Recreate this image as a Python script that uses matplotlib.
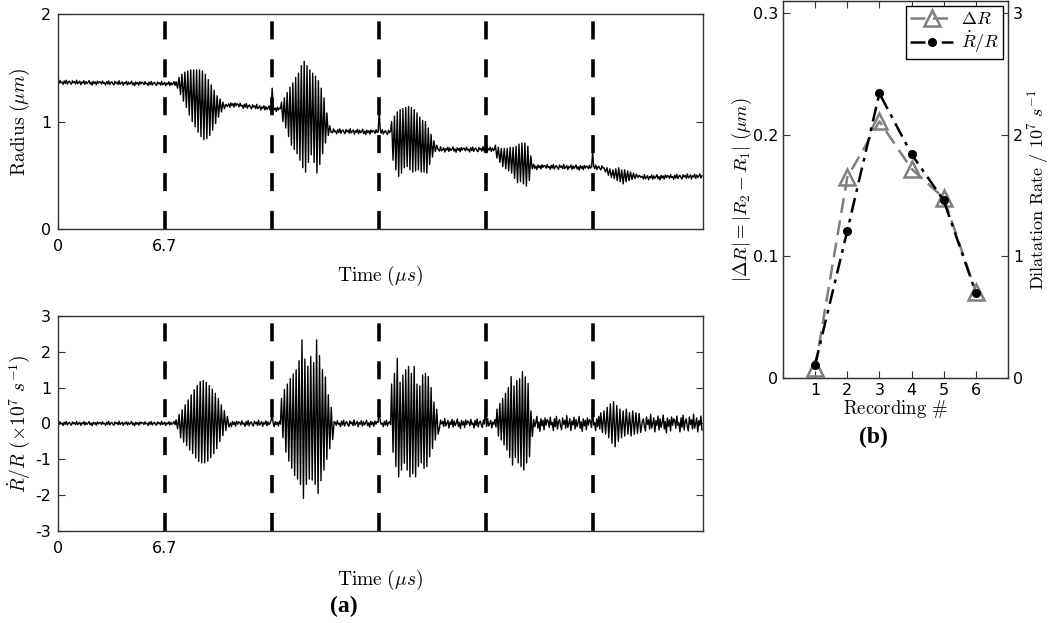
import numpy as np
import matplotlib.pyplot as plt

plt.rcParams['mathtext.fontset'] = 'cm'
plt.rcParams['font.family'] = 'DejaVu Sans'

# ---- panel (a): time traces ----
t_end = 40.4
marks = [6.7, 13.4, 20.1, 26.8, 33.5]

# quiet stretches: (start, end, level at start, level at end, noise)
r_quiet = [(0.0, 7.4, 1.365, 1.35, 0.022),
           (10.7, 14.0, 1.16, 1.11, 0.026),
           (17.2, 20.9, 0.91, 0.90, 0.026),
           (23.9, 27.4, 0.74, 0.74, 0.026),
           (29.8, 34.2, 0.58, 0.57, 0.026),
           (36.6, 40.4, 0.48, 0.49, 0.026)]
# bursts: (start, end) and per-cycle tops / bottoms
r_burst_t = [(7.4, 10.7), (14.0, 17.2), (20.9, 23.9), (27.4, 29.8), (34.2, 36.6)]
r_tops = [
    [1.37, 1.41, 1.44, 1.46, 1.47, 1.48, 1.48, 1.48, 1.48, 1.47, 1.44, 1.39, 1.34, 1.29, 1.24, 1.21, 1.18, 1.16],
    [1.18, 1.22, 1.27, 1.32, 1.36, 1.41, 1.45, 1.52, 1.56, 1.52, 1.48, 1.45, 1.42, 1.38, 1.31, 1.22, 1.08, 0.96],
    [1.00, 1.05, 1.09, 1.11, 1.12, 1.13, 1.14, 1.13, 1.11, 1.08, 1.04, 1.01, 1.00, 0.94, 0.88, 0.82, 0.78],
    [0.78, 0.76, 0.75, 0.75, 0.75, 0.76, 0.76, 0.77, 0.79, 0.80, 0.80, 0.77, 0.68],
    [0.57, 0.57, 0.56, 0.55, 0.56, 0.57, 0.55, 0.55, 0.54, 0.53, 0.52, 0.51, 0.50]]
r_bots = [
    [1.31, 1.25, 1.19, 1.13, 1.06, 1.00, 0.95, 0.90, 0.86, 0.83, 0.84, 0.87, 0.92, 0.98, 1.04, 1.09, 1.12, 1.14],
    [1.00, 0.94, 0.86, 0.78, 0.74, 0.70, 0.64, 0.57, 0.53, 0.62, 0.69, 0.62, 0.52, 0.60, 0.70, 0.80, 0.87, 0.90],
    [0.64, 0.55, 0.49, 0.52, 0.57, 0.58, 0.55, 0.53, 0.54, 0.55, 0.53, 0.53, 0.52, 0.60, 0.67, 0.72, 0.74],
    [0.66, 0.62, 0.58, 0.56, 0.54, 0.52, 0.47, 0.43, 0.44, 0.42, 0.40, 0.45, 0.56],
    [0.53, 0.50, 0.48, 0.47, 0.45, 0.44, 0.42, 0.44, 0.45, 0.46, 0.47, 0.48, 0.48]]
r_spikes = [(13.4, 1.31), (20.1, 1.10), (26.8, 0.86), (33.5, 0.72)]

d_quiet = [(0.0, 7.4, 0.0, 0.0, 0.06),
           (10.8, 14.0, 0.0, 0.0, 0.09),
           (17.3, 20.9, 0.0, 0.0, 0.10),
           (23.9, 27.5, 0.0, 0.0, 0.14),
           (29.8, 34.0, 0.0, 0.0, 0.22),
           (36.6, 40.4, 0.0, 0.0, 0.26)]
d_burst_t = [(7.4, 10.8), (14.0, 17.3), (20.9, 23.9), (27.5, 29.8), (34.0, 36.6)]
d_tops = [
    [0.10, 0.25, 0.38, 0.52, 0.66, 0.80, 0.94, 1.06, 1.17, 1.20, 1.15, 1.06, 0.96, 0.84, 0.70, 0.52, 0.36, 0.20],
    [0.70, 0.95, 1.10, 1.25, 1.38, 1.50, 1.75, 2.33, 1.80, 1.60, 1.87, 1.70, 2.33, 1.90, 1.50, 1.30, 0.80, 0.45],
    [1.10, 1.40, 1.82, 1.15, 1.35, 1.50, 1.59, 1.40, 1.59, 1.10, 1.05, 1.35, 1.40, 1.31, 1.00, 0.60, 0.40],
    [0.40, 0.56, 0.70, 0.84, 1.00, 1.31, 1.05, 1.20, 1.25, 1.45, 1.30, 1.12, 0.35],
    [0.30, 0.35, 0.45, 0.55, 0.61, 0.50, 0.40, 0.35, 0.40, 0.30, 0.35, 0.30, 0.28]]
d_bots = [
    [-0.15, -0.40, -0.52, -0.62, -0.74, -0.84, -0.96, -1.06, -1.10, -1.10, -1.05, -0.95, -0.84, -0.70, -0.50, -0.34, -0.20, -0.10],
    [-0.40, -0.80, -1.05, -1.25, -1.45, -1.55, -1.70, -2.09, -1.70, -1.55, -1.58, -1.70, -1.95, -1.60, -1.30, -1.00, -0.70, -0.45],
    [-0.80, -1.20, -1.49, -1.30, -1.11, -1.30, -1.49, -1.40, -1.49, -1.20, -1.10, -1.25, -1.20, -0.93, -0.70, -0.46, -0.30],
    [-0.35, -0.46, -0.60, -0.74, -0.95, -1.16, -0.95, -1.10, -1.20, -1.30, -1.10, -0.93, -0.36],
    [-0.25, -0.30, -0.40, -0.55, -0.65, -0.50, -0.40, -0.35, -0.30, -0.35, -0.30, -0.28, -0.25]]
d_spikes = [(13.4, 0.28), (20.1, 0.42), (26.8, 0.47), (33.5, 0.45)]

# small jitter pattern for the quiet parts
jitter = [0.3, -0.5, 0.8, -0.2, 0.1, -0.9, 0.6, -0.4, 0.9, -0.7, 0.2, 0.5, -0.3, -0.8,
          0.7, -0.1, 0.4, -0.6, 1.0, -0.5, 0.0, 0.6, -0.9, 0.3, -0.2, 0.8, -0.7, 0.5,
          -0.4, 0.1, 0.9, -0.6, 0.2, -1.0, 0.6, -0.3, 0.4, -0.8, 0.7, -0.2, 0.5]

# ---- panel (b) ----
rec = [1, 2, 3, 4, 5, 6]
dR = [0.008, 0.165, 0.211, 0.172, 0.148, 0.071]
rate = [0.11, 1.21, 2.34, 1.84, 1.46, 0.70]


def build(quiet, burst_t, tops, bots, spikes):
    tt, yy = [], []
    k = 0
    for j in range(len(quiet)):
        t0, t1, y0, y1, lvl = quiet[j]
        n = int(round((t1 - t0) / 0.065))
        for i in range(n):
            f = i / n
            tt.append(t0 + (t1 - t0) * f)
            yy.append(y0 + (y1 - y0) * f + lvl * jitter[k % len(jitter)])
            k += 1
        if j < len(burst_t):
            b0, b1 = burst_t[j]
            nc = len(tops[j])
            per = (b1 - b0) / nc
            for i in range(nc):
                tt.append(b0 + i * per)
                yy.append(tops[j][i])
                tt.append(b0 + (i + 0.5) * per)
                yy.append(bots[j][i])
    tt = np.array(tt)
    yy = np.array(yy)
    for ts, v in spikes:
        yy[np.argmin(np.abs(tt - ts))] = v
    return tt, yy


fig = plt.figure(figsize=(10.5, 6.23), dpi=100)
ax1 = fig.add_axes([0.0552, 0.6324, 0.6143, 0.3451])
ax2 = fig.add_axes([0.0552, 0.1477, 0.6143, 0.3451])
ax3 = fig.add_axes([0.7457, 0.3933, 0.2143, 0.6051])

frame = '#333333'
for ax in (ax1, ax2, ax3):
    for s in ax.spines.values():
        s.set_color(frame)
        s.set_linewidth(1.0)

t1, y1 = build(r_quiet, r_burst_t, r_tops, r_bots, r_spikes)
ax1.plot(t1, y1, color='black', lw=1.0)
t2, y2 = build(d_quiet, d_burst_t, d_tops, d_bots, d_spikes)
ax2.plot(t2, y2, color='black', lw=1.0)

for ax in (ax1, ax2):
    for m in marks:
        ax.axvline(m, color='black', lw=2.6, dashes=(5, 5.5))
    ax.set_xlim(0, t_end)
    ax.set_xticks([0, 6.7])
    ax.set_xticklabels(['0', '6.7'])
    ax.tick_params(direction='in', right=True, labelsize=11.5, length=5, color=frame)
    ax.tick_params(axis='x', pad=7)
    ax.tick_params(axis='y', pad=5)

ax1.set_xlabel(r'$\mathrm{Time}\ (\mu s)$', fontsize=14, labelpad=7)
ax2.set_xlabel(r'$\mathrm{Time}\ (\mu s)$', fontsize=14, labelpad=9)
ax1.set_ylim(0, 2)
ax1.set_yticks([0, 1, 2])
ax1.set_ylabel(r'$\mathrm{Radius}\ (\mu m)$', fontsize=14, labelpad=6)
ax2.set_ylim(-3, 3)
ax2.set_yticks([-3, -2, -1, 0, 1, 2, 3])
ax2.set_yticklabels(['-3', '-2', '-1', '0', '1', '2', '3'])
ax2.set_ylabel(r'$\dot{R}/R\ (\times 10^7\ s^{-1})$', fontsize=14, labelpad=2)

gray = '#7f7f7f'
l1, = ax3.plot(rec, dR, color=gray, ls='--', dashes=(6, 3), lw=1.8, marker='^', ms=11,
               mfc='none', mec=gray, mew=1.8, label=r'$\Delta R$')
ax3.set_ylim(0, 0.31)
ax3.set_xlim(0, 7)
ax3.set_xticks(rec)
ax3.set_yticks([0, 0.1, 0.2, 0.3])
ax3.set_yticklabels(['0', '0.1', '0.2', '0.3'])
ax3.tick_params(direction='in', top=True, labelsize=11.5, length=5, color=frame)
ax3.set_xlabel(r'$\mathrm{Recording}\ \#$', fontsize=13.5, labelpad=0)
ax3.set_ylabel(r'$|\Delta R| = |R_2 - R_1|\ (\mu m)$', fontsize=13.5, labelpad=-1)

ax4 = ax3.twinx()
l2, = ax4.plot(rec, rate, color='black', ls='-.', dashes=(6, 2.5, 1.5, 2.5), lw=1.8,
               marker='o', ms=5.5, label=r'$\dot{R}/R$')
ax4.set_ylim(0, 3.1)
ax4.set_yticks([0, 1, 2, 3])
ax4.tick_params(direction='in', labelsize=11.5, length=5, color=frame)
ax4.set_ylabel(r'$\mathrm{Dilatation\ Rate}\ /\ 10^7\ s^{-1}$', fontsize=13, labelpad=2)
for s in ax4.spines.values():
    s.set_color(frame)

leg = ax4.legend(handles=[l1, l2], loc='upper right', fontsize=13, handlelength=2.4,
                 fancybox=False, framealpha=1, edgecolor='black', borderpad=0.2,
                 labelspacing=0.1, handletextpad=0.4, borderaxespad=0.3)
leg.get_frame().set_linewidth(1.0)

fig.text(0.327, 0.027, '(a)', fontsize=17, fontweight='bold', family='Liberation Serif',
         ha='center', va='center')
fig.text(0.832, 0.298, '(b)', fontsize=17, fontweight='bold', family='Liberation Serif',
         ha='center', va='center')

fig.savefig('out.png', dpi=100)
